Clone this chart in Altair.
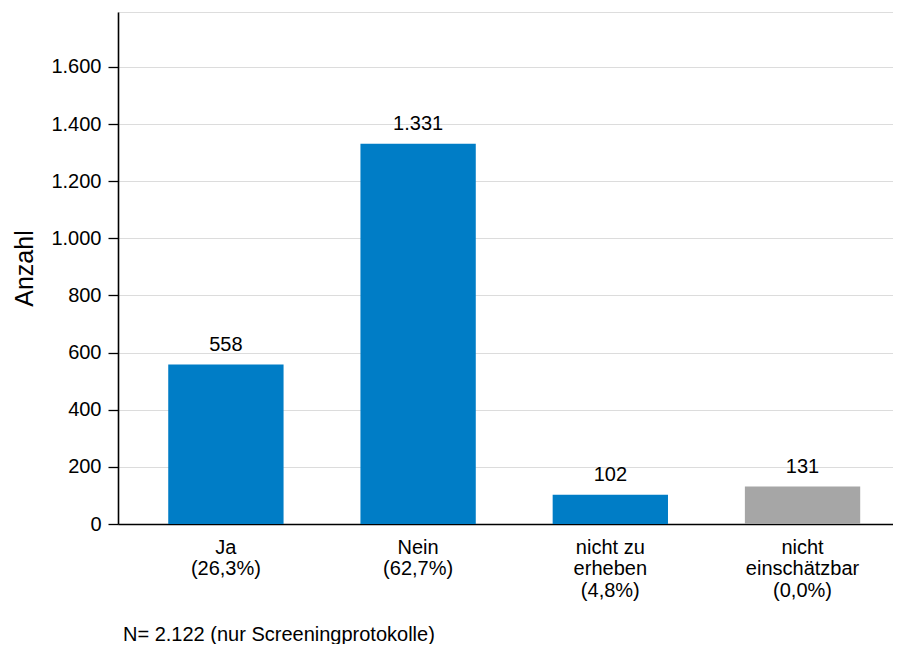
import altair as alt
import pandas as pd

categories = ["Ja", "Nein", "nicht zu erheben", "nicht einschätzbar"]
label_lines = [["Ja", "(26,3%)"], ["Nein", "(62,7%)"],
               ["nicht zu", "erheben", "(4,8%)"], ["nicht", "einschätzbar", "(0,0%)"]]
counts = [558, 1331, 102, 131]
bar_colors = ["#007DC6", "#007DC6", "#007DC6", "#A6A6A6"]
y_ticks = [0, 200, 400, 600, 800, 1000, 1200, 1400, 1600]
note_text = "N= 2.122 (nur Screeningprotokolle)"

labels = ["|".join(l) for l in label_lines]
df = pd.DataFrame({"cat": categories, "label": labels, "count": counts})
note_df = pd.DataFrame({"note": [note_text]})

FONT = "Liberation Sans"

x_enc = alt.X(
    "label:N", sort=labels,
    scale=alt.Scale(paddingInner=0.4, paddingOuter=0.216, align=0.605),
    axis=alt.Axis(title=None, labelAngle=0, ticks=False, labelFontSize=20,
                  labelColor="black", labelPadding=13, labelLineHeight=21.5,
                  labelExpr="split(datum.value, '|')", domainColor="black",
                  domainWidth=1.6, grid=False, labelFont=FONT),
)
y_enc = alt.Y(
    "count:Q",
    scale=alt.Scale(domain=[0, 1792], nice=False),
    axis=alt.Axis(title="Anzahl", values=y_ticks, labelFontSize=20, labelColor="black",
                  labelExpr="replace(format(datum.value, ','), ',', '.')",
                  tickSize=10, tickColor="black", tickWidth=1.3, labelPadding=7,
                  domainColor="black", domainWidth=1.6, gridColor="#DCDCDC",
                  titleFontSize=25, titleFontWeight="normal", titleColor="black",
                  titleX=-86, titleBaseline="alphabetic", titleFont=FONT, labelFont=FONT),
)

bars = alt.Chart(df).mark_bar().encode(
    x=x_enc, y=y_enc,
    color=alt.Color("cat:N", scale=alt.Scale(domain=categories, range=bar_colors), legend=None),
)

text = alt.Chart(df).transform_calculate(
    lab="replace(format(datum.count, ','), ',', '.')"
).mark_text(fontSize=20, baseline="alphabetic", dy=-13.5, color="black", font=FONT).encode(
    x=alt.X("label:N", sort=labels), y="count:Q", text="lab:N"
)

note = alt.Chart(note_df).mark_text(
    fontSize=20, align="left", baseline="alphabetic", color="black", font=FONT
).encode(x=alt.value(5), y=alt.value(629), text="note:N")

chart = alt.layer(bars, text, note).properties(
    width=775, height=512,
    autosize=alt.AutoSizeParams(type="none"),
    padding={"left": 110, "top": 4, "right": 0, "bottom": 120},
).configure_view(stroke=None).configure(font=FONT)

chart.save("out.html", embed_options={"renderer": "svg", "actions": False})
